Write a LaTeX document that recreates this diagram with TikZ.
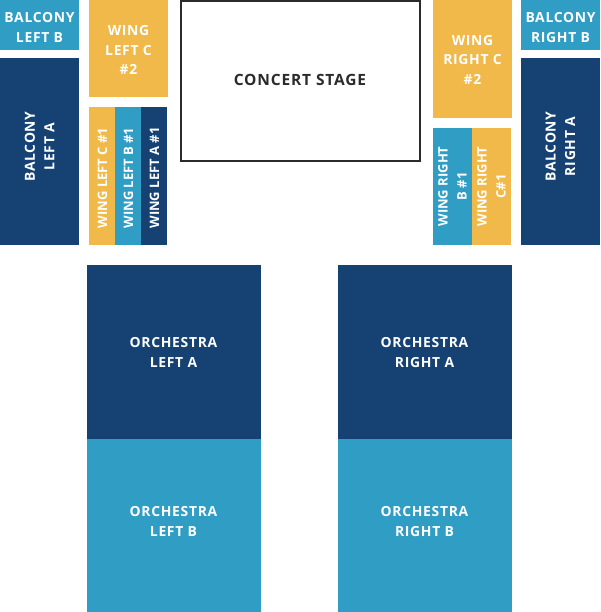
\documentclass[tikz,border=0pt]{standalone}
\usepackage{fontspec}
\setmainfont{Open Sans}
\newfontfamily\spacedfont{Open Sans}[LetterSpace=5]
\newfontfamily\stagefont{Open Sans}[LetterSpace=5.5]
\definecolor{navy}{HTML}{154273}
\definecolor{lblue}{HTML}{309DC5}
\definecolor{gold}{HTML}{F0B94A}
\definecolor{stageline}{HTML}{2B2B2B}
\tikzset{
  block/.style={inner sep=0pt, outer sep=0pt, draw=none},
  seattext/.style={inner sep=0pt, outer sep=0pt, text=white, align=center,
    font=\spacedfont\fontsize{13.9}{19.5}\selectfont\bfseries},
  striptext/.style={inner sep=0pt, outer sep=0pt, text=white, align=center, rotate=90,
    font=\fontsize{13}{19}\selectfont\bfseries},
  stagebox/.style={draw=stageline, line width=2pt, fill=white, inner sep=0pt,
    text=stageline, font=\stagefont\fontsize{15.5}{18}\selectfont\bfseries},
}
\begin{document}
\begin{tikzpicture}[x=1pt,y=-1pt]
\useasboundingbox (0,0) rectangle (600,612);
% balconies
\node[block, fill=lblue, minimum width=79pt, minimum height=50pt] (balLB) at (39.5,25) {};
\node[seattext] (balLBt) at (39.5,27.5) {BALCONY\\LEFT B};
\node[block, fill=navy, minimum width=79pt, minimum height=187pt] (balLA) at (39.5,151.5) {};
\node[seattext, rotate=90] (balLAt) at (39.5,146.5) {BALCONY\\LEFT A};
\node[block, fill=lblue, minimum width=79pt, minimum height=50pt] (balRB) at (560.5,25) {};
\node[seattext] (balRBt) at (560.5,27.5) {BALCONY\\RIGHT B};
\node[block, fill=navy, minimum width=79pt, minimum height=187pt] (balRA) at (560.5,151.5) {};
\node[seattext, rotate=90] (balRAt) at (560.5,146.5) {BALCONY\\RIGHT A};
% wings left
\node[block, fill=gold, minimum width=79pt, minimum height=97pt] (wLC2) at (128.5,48.5) {};
\node[seattext] (wLC2t) at (128.5,50) {WING\\LEFT C\\\#2};
\node[block, fill=gold, minimum width=26pt, minimum height=138pt] (wLC1) at (102,176) {};
\node[block, fill=lblue, minimum width=26pt, minimum height=138pt] (wLB1) at (128,176) {};
\node[block, fill=navy, minimum width=26pt, minimum height=138pt] (wLA1) at (154,176) {};
\node[striptext] (wLC1t) at (102.5,178) {WING LEFT C \#1};
\node[striptext] (wLB1t) at (128.5,178) {WING LEFT B \#1};
\node[striptext] (wLA1t) at (154.5,178) {WING LEFT A \#1};
% wings right
\node[block, fill=gold, minimum width=79pt, minimum height=118pt] (wRC2) at (472.5,59) {};
\node[seattext] (wRC2t) at (472.5,59.5) {WING\\RIGHT C\\\#2};
\node[block, fill=lblue, minimum width=39pt, minimum height=117pt] (wRB1) at (452.5,186.5) {};
\node[block, fill=gold, minimum width=39pt, minimum height=117pt] (wRC1) at (491.5,186.5) {};
\node[striptext] (wRB1t) at (wRB1.center) {WING RIGHT\\B \#1};
\node[striptext] (wRC1t) at (wRC1.center) {WING RIGHT\\C\#1};
% stage
\node[stagebox, minimum width=239pt, minimum height=160pt] (stage) at (300,81) {};
\node[inner sep=0pt, text=stageline, font=\stagefont\fontsize{15.5}{18}\selectfont\bfseries] (staget) at (300,80) {CONCERT STAGE};
% orchestra
\node[block, fill=navy, minimum width=174pt, minimum height=173.5pt] (oLA) at (173.5,351.75) {};
\node[block, fill=lblue, minimum width=174pt, minimum height=173.5pt] (oLB) at (173.5,525.25) {};
\node[block, fill=navy, minimum width=174pt, minimum height=173.5pt] (oRA) at (424.5,351.75) {};
\node[block, fill=lblue, minimum width=174pt, minimum height=173.5pt] (oRB) at (424.5,525.25) {};
\node[seattext] (oLAt) at (173.5,352.5) {ORCHESTRA\\LEFT A};
\node[seattext] (oLBt) at (173.5,521.5) {ORCHESTRA\\LEFT B};
\node[seattext] (oRAt) at (424.5,352.5) {ORCHESTRA\\RIGHT A};
\node[seattext] (oRBt) at (424.5,521.5) {ORCHESTRA\\RIGHT B};
\end{tikzpicture}
\end{document}
